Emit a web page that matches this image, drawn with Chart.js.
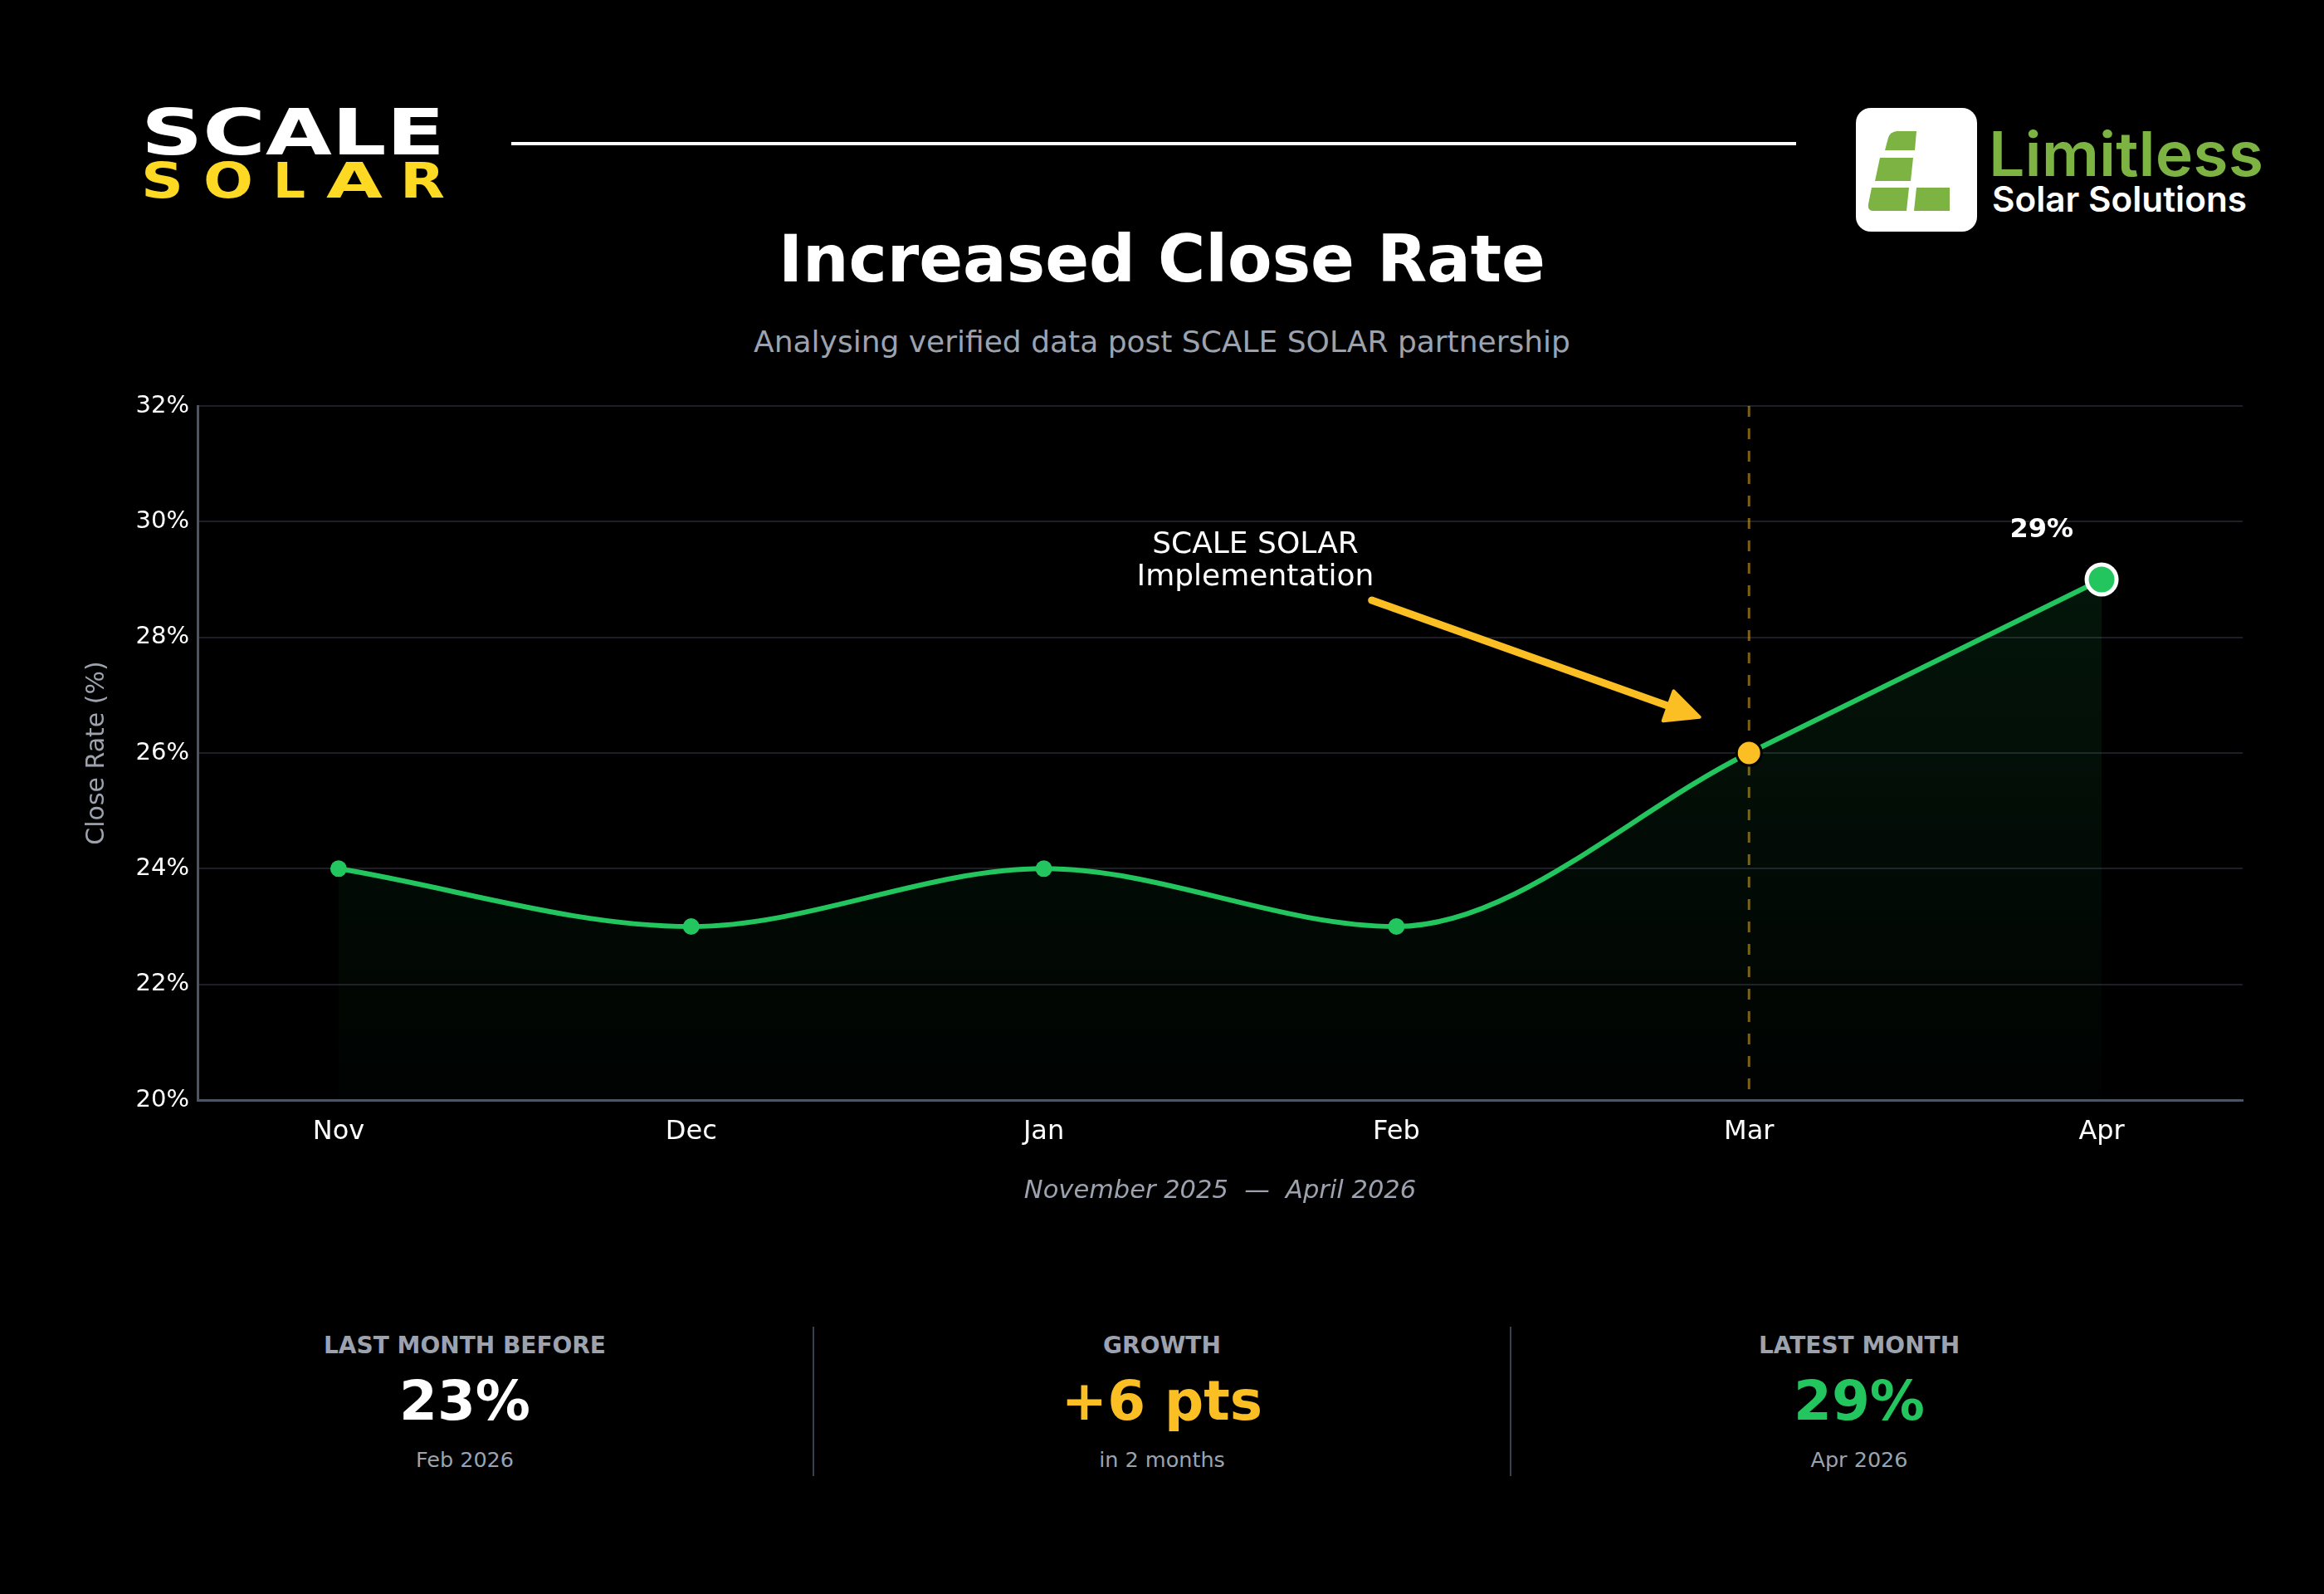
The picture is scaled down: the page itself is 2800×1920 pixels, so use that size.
<!DOCTYPE html>
<html lang="en">
<head>
  <meta charset="UTF-8">
  <title>Increased Close Rate</title>
  <script src="https://cdn.jsdelivr.net/npm/chart.js"></script>
  <style>
    body {
      margin: 0;
      background: #000;
      width: 2800px;
      height: 1920px;
      position: relative;
      overflow: hidden;
      font-family: "DejaVu Sans", sans-serif;
    }
    .abs { position: absolute; }
    #title {
      left: 0; width: 2800px; top: 264px;
      text-align: center; color: #fff;
      font-weight: bold; font-size: 78px; line-height: 96px;
    }
    #subtitle {
      left: 0; width: 2800px; top: 390px;
      text-align: center; color: #9ca3af;
      font-size: 36px; line-height: 44px;
    }
    #chartBox { left: 0; top: 440px; width: 2800px; height: 1040px; }
    .stat { top: 1590px; width: 840px; text-align: center; }
    .stat .lbl { color: #9ca3af; font-weight: bold; font-size: 28px; line-height: 32px; height: 32px; margin-top: 15px; }
    .stat .val { font-weight: bold; font-size: 66px; line-height: 80px; height: 80px; margin-top: 11px; }
    .stat .sub { color: #9ca3af; font-size: 25.5px; line-height: 30px; margin-top: 15px; }
    .divider { top: 1598px; width: 2px; height: 180px; background: #374151; }
  </style>
</head>
<body>
  <!-- header logos -->
  <svg class="abs" style="left:0;top:0" width="2800" height="300">
    <text x="170" y="186" textLength="366" lengthAdjust="spacingAndGlyphs"
          font-family="DejaVu Sans" font-weight="bold" font-size="77" fill="#fff">SCALE</text>
    <g font-family="DejaVu Sans" font-weight="bold" font-size="58" fill="#fdd923">
      <text x="170" y="238" textLength="51" lengthAdjust="spacingAndGlyphs">S</text>
      <text x="245" y="238" textLength="60" lengthAdjust="spacingAndGlyphs">O</text>
      <text x="329" y="238" textLength="39" lengthAdjust="spacingAndGlyphs">L</text>
      <text x="393" y="238" textLength="68" lengthAdjust="spacingAndGlyphs">A</text>
      <text x="482" y="238" textLength="54" lengthAdjust="spacingAndGlyphs">R</text>
    </g>
    <rect x="616" y="171" width="1548" height="4" fill="#fff"/>
    <rect x="2236" y="130" width="146" height="149" rx="18" fill="#fff"/>
    <g fill="#7cb342">
      <path d="M2271 181 L2275 166 Q2277 159 2285 158 L2309 158 L2307 181 Z"/>
      <path d="M2259 218 L2265 190 L2305 190 L2302 218 Z"/>
      <path d="M2255 226 L2300 226 L2297 254 L2257 254 Q2250 254 2251 246 Z"/>
      <path d="M2309 226 L2349 226 L2349 254 L2306 254 Z"/>
    </g>
    <text x="2396" y="212" textLength="331" lengthAdjust="spacingAndGlyphs"
          font-family="Inter" font-weight="600" font-size="74" fill="#7cb342">Limitless</text>
    <text x="2400" y="255" textLength="307" lengthAdjust="spacingAndGlyphs"
          font-family="Inter" font-weight="600" font-size="42" fill="#fff">Solar Solutions</text>
  </svg>

  <div id="title" class="abs">Increased Close Rate</div>
  <div id="subtitle" class="abs">Analysing verified data post SCALE SOLAR partnership</div>

  <div id="chartBox" class="abs">
    <canvas id="closeChart" width="2800" height="1040"></canvas>
  </div>

  <div class="abs stat" style="left:140px">
    <div class="lbl">LAST MONTH BEFORE</div>
    <div class="val" id="beforeVal" style="color:#fff"></div>
    <div class="sub" id="beforeSub"></div>
  </div>
  <div class="abs divider" style="left:979px"></div>
  <div class="abs stat" style="left:980px">
    <div class="lbl">GROWTH</div>
    <div class="val" id="growthVal" style="color:#fbbf24"></div>
    <div class="sub" id="growthSub"></div>
  </div>
  <div class="abs divider" style="left:1819px"></div>
  <div class="abs stat" style="left:1820px">
    <div class="lbl">LATEST MONTH</div>
    <div class="val" id="latestVal" style="color:#22c55e"></div>
    <div class="sub" id="latestSub"></div>
  </div>

  <script>
    // data
    const months = ['Nov', 'Dec', 'Jan', 'Feb', 'Mar', 'Apr'];
    const monthLabels = ['Nov 2025', 'Dec 2025', 'Jan 2026', 'Feb 2026', 'Mar 2026', 'Apr 2026'];
    const closeRate = [24, 23, 24, 23, 26, 29];
    const yTicks = [20, 22, 24, 26, 28, 30, 32];
    const launchIndex = 4;   // Mar = SCALE SOLAR implementation

    const green = '#22c55e';
    const amber = '#fbbf24';
    const last = closeRate.length - 1;
    const before = launchIndex - 1;

    // stat cards
    document.getElementById('beforeVal').textContent = closeRate[before] + '%';
    document.getElementById('beforeSub').textContent = monthLabels[before];
    document.getElementById('growthVal').textContent = '+' + (closeRate[last] - closeRate[before]) + ' pts';
    document.getElementById('growthSub').textContent = 'in ' + (last - before) + ' months';
    document.getElementById('latestVal').textContent = closeRate[last] + '%';
    document.getElementById('latestSub').textContent = monthLabels[last];

    // annotation placement (data coordinates)
    const note = {
      lines: ['SCALE SOLAR', 'Implementation'],
      at: [2.6, 29.32],
      arrowFrom: [2.93, 28.64],
      arrowTo: [3.86, 26.62],
      peakAt: [4.83, 29.85]
    };

    const annotations = {
      id: 'annotations',
      beforeDatasetsDraw(chart) {
        const { ctx, chartArea, scales: { x } } = chart;
        const px = x.getPixelForValue(launchIndex);
        ctx.save();
        ctx.strokeStyle = 'rgba(251, 191, 36, 0.5)';
        ctx.lineWidth = 3;
        ctx.setLineDash([13, 14]);
        ctx.beginPath();
        ctx.moveTo(px, chartArea.top);
        ctx.lineTo(px, chartArea.bottom);
        ctx.stroke();
        ctx.restore();
      },
      afterDatasetsDraw(chart) {
        const { ctx, scales: { x, y } } = chart;
        ctx.save();
        // arrow
        const x0 = x.getPixelForValue(note.arrowFrom[0]), y0 = y.getPixelForValue(note.arrowFrom[1]);
        const x1 = x.getPixelForValue(note.arrowTo[0]), y1 = y.getPixelForValue(note.arrowTo[1]);
        const ang = Math.atan2(y1 - y0, x1 - x0);
        const headLen = 40, headW = 19;
        const bx = x1 - headLen * Math.cos(ang), by = y1 - headLen * Math.sin(ang);
        ctx.strokeStyle = amber;
        ctx.fillStyle = amber;
        ctx.lineWidth = 9;
        ctx.lineCap = 'round';
        ctx.beginPath();
        ctx.moveTo(x0, y0);
        ctx.lineTo(bx + 4 * Math.cos(ang), by + 4 * Math.sin(ang));
        ctx.stroke();
        ctx.lineWidth = 4;
        ctx.lineJoin = 'round';
        ctx.beginPath();
        ctx.moveTo(x1, y1);
        ctx.lineTo(bx + headW * Math.sin(ang), by - headW * Math.cos(ang));
        ctx.lineTo(bx - headW * Math.sin(ang), by + headW * Math.cos(ang));
        ctx.closePath();
        ctx.fill();
        ctx.stroke();
        // note text
        ctx.fillStyle = '#fff';
        ctx.font = '36px "DejaVu Sans"';
        ctx.textAlign = 'center';
        ctx.textBaseline = 'middle';
        const tx = x.getPixelForValue(note.at[0]);
        const ty = y.getPixelForValue(note.at[1]);
        note.lines.forEach((l, i) => ctx.fillText(l, tx, ty + (i - 0.5) * 39));
        // peak label
        ctx.font = 'bold 32px "DejaVu Sans"';
        ctx.fillText(closeRate[last] + '%', x.getPixelForValue(note.peakAt[0]), y.getPixelForValue(note.peakAt[1]));
        ctx.restore();
      }
    };

    Chart.defaults.font.family = '"DejaVu Sans", sans-serif';

    const chart = new Chart(document.getElementById('closeChart'), {
      type: 'line',
      data: {
        datasets: [{
          data: closeRate.map((v, i) => ({ x: i, y: v })),
          borderColor: green,
          borderWidth: 6,
          cubicInterpolationMode: 'monotone',
          fill: 'start',
          backgroundColor: (c) => {
            const area = c.chart.chartArea;
            if (!area) return 'rgba(34,197,94,0.08)';
            const g = c.chart.ctx.createLinearGradient(0, c.chart.scales.y.getPixelForValue(29), 0, area.bottom);
            g.addColorStop(0, 'rgba(34,197,94,0.11)');
            g.addColorStop(1, 'rgba(34,197,94,0.01)');
            return g;
          },
          pointRadius: (c) => c.dataIndex === last ? 18 : c.dataIndex === launchIndex ? 15 : 10,
          pointBackgroundColor: (c) => c.dataIndex === launchIndex ? amber : green,
          pointBorderColor: (c) => c.dataIndex === last ? '#fff' : c.dataIndex === launchIndex ? '#000' : green,
          pointBorderWidth: (c) => c.dataIndex === last ? 5 : c.dataIndex === launchIndex ? 3 : 0
        }]
      },
      options: {
        responsive: false,
        animation: false,
        devicePixelRatio: 1,
        layout: { padding: { top: 49, right: 98, left: 0, bottom: 0 } },
        plugins: {
          legend: { display: false },
          tooltip: { enabled: false }
        },
        scales: {
          x: {
            type: 'linear',
            min: -0.4,
            max: 5.4,
            afterBuildTicks: (axis) => { axis.ticks = months.map((m, i) => ({ value: i })); },
            afterFit: (s) => { s.height = 155; },
            ticks: {
              callback: (v) => months[v],
              color: '#fff',
              font: { size: 32 },
              padding: 19,
              maxRotation: 0
            },
            grid: { display: false, drawTicks: false },
            border: { color: '#4b5563', width: 3 },
            title: {
              display: true,
              text: 'November 2025  \u2014  April 2026',
              color: '#9ca3af',
              font: { size: 30.5, style: 'italic' },
              padding: { bottom: 27 }
            }
          },
          y: {
            min: yTicks[0],
            max: yTicks[yTicks.length - 1],
            afterBuildTicks: (axis) => { axis.ticks = yTicks.map(v => ({ value: v })); },
            afterFit: (s) => { s.width = 238; },
            ticks: {
              callback: (v) => v + '%',
              color: '#fff',
              font: { size: 29 },
              padding: 10
            },
            grid: { color: '#1c1f26', lineWidth: 2, drawTicks: false },
            border: { color: '#4b5563', width: 3 },
            title: {
              display: true,
              text: 'Close Rate (%)',
              color: '#9ca3af',
              font: { size: 30 },
              padding: { top: 99 }
            }
          }
        }
      },
      plugins: [annotations]
    });
  </script>
</body>
</html>
